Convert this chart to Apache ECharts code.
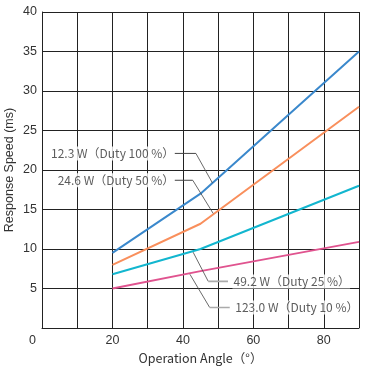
<!DOCTYPE html>
<html>
<head>
<meta charset="utf-8">
<script src="https://cdn.jsdelivr.net/npm/echarts@6/dist/echarts.min.js"></script>
<style>html,body{margin:0;padding:0;background:#fff}#c{width:370px;height:372px}</style>
</head>
<body>
<div id="c"></div>
<script>
// Operation angle (deg) at the measured points
const angles = [20, 45, 90];
// Response speed (ms)
const speed100 = [9.5, 17.0, 35.0];   // 12.3 W (Duty 100 %)
const speed50  = [8.0, 13.2, 28.0];   // 24.6 W (Duty 50 %)
const speed25  = [6.8, 10.0, 18.0];   // 49.2 W (Duty 25 %)
const speed10  = [5.0, 7.2, 10.9];    // 123.0 W (Duty 10 %)
const seriesNames = ['12.3 W（Duty 100 %）', '24.6 W（Duty 50 %）', '49.2 W（Duty 25 %）', '123.0 W（Duty 10 %）'];
const xTickLabels = ['0', '20', '40', '60', '80'];
const yTickLabels = ['5', '10', '15', '20', '25', '30', '35', '40'];
// Leader-line anchor points for annotations (data coordinates)
const leader100 = [[37.7, 22.1], [43.7, 22.1], [48.4, 18.35]];
const leader50  = [[37.7, 18.7], [42.8, 18.7], [48.6, 14.5]];
const leader25  = [[42.9, 9.6], [47.2, 5.9], [52.8, 5.9]];
const leader10  = [[42.0, 6.8], [47.6, 2.6], [53.3, 2.6]];

const colors = ['#3a88cc', '#f98f5c', '#12b6cf', '#e0538f'];
const values = [speed100, speed50, speed25, speed10];
const leaders = [leader100, leader50, leader25, leader10];
const labelSide = ['left', 'left', 'right', 'right'];

const chart = echarts.init(document.getElementById('c'), null, {renderer: 'canvas'});

const series = [];
values.forEach((v, i) => {
  series.push({
    type: 'line', name: seriesNames[i],
    data: angles.map((a, k) => [a, v[k]]),
    symbol: 'none', smooth: false, silent: true,
    lineStyle: {color: colors[i], width: 2},
    z: 5
  });
});
leaders.forEach((pts, i) => {
  const side = labelSide[i];
  series.push({
    type: 'line', data: pts.slice(side === 'left' ? 1 : 0, side === 'left' ? 3 : 2),
    symbol: 'none', silent: true,
    lineStyle: {color: '#444', width: 0.8}, z: 8
  });
  series.push({
    type: 'line', data: side === 'left' ? pts.slice(0, 2) : pts.slice(1, 3),
    symbol: 'none', silent: true,
    lineStyle: {color: side === 'left' ? '#444' : '#aaa', width: side === 'left' ? 1 : 1.6}, z: 8
  });
  const anchor = side === 'left' ? pts[0] : pts[2];
  series.push({
    type: 'scatter', silent: true, symbolSize: 1,
    itemStyle: {color: 'rgba(0,0,0,0)'},
    data: [anchor],
    label: {
      show: true, position: side, distance: side === 'left' ? 0 : 4,
      formatter: seriesNames[i],
      color: '#333', fontSize: 12,
      fontFamily: '"Noto Sans CJK JP", "Noto Sans", sans-serif',
      backgroundColor: '#fff', padding: [1, 0, 1, 1]
    },
    z: 7
  });
});

chart.setOption({
  animation: false,
  backgroundColor: '#fff',
  grid: {left: 42, right: 11, top: 12, bottom: 44, containLabel: false, outerBoundsMode: 'none', show: false},
  xAxis: {
    type: 'value', min: 0, max: 90, interval: 10,
    name: 'Operation Angle（°）', nameLocation: 'middle', nameGap: 22,
    nameTextStyle: {color: '#333', fontSize: 12.5, fontFamily: '"Noto Sans CJK JP", "Liberation Sans", sans-serif'},
    axisLine: {show: true, onZero: false, lineStyle: {color: '#222', width: 1}},
    axisTick: {show: false},
    splitLine: {show: true, lineStyle: {color: '#222', width: 1}},
    axisLabel: {
      show: true, margin: 6, color: '#333', fontSize: 12.5, fontFamily: '"Liberation Sans", Arial, sans-serif',
      showMaxLabel: true,
      formatter: function (v) {
        const s = String(v);
        if (s === '0') return '{z|0}';
        return xTickLabels.indexOf(s) >= 0 ? s : '';
      },
      rich: {z: {padding: [0, 19, 0, 0], fontSize: 12.5, color: '#333', fontFamily: '"Liberation Sans", Arial, sans-serif'}}
    }
  },
  yAxis: {
    type: 'value', min: 0, max: 40, interval: 5,
    name: 'Response Speed (ms)', nameLocation: 'middle', nameGap: 26, nameRotate: 90,
    nameMoveOverlap: false,
    nameTextStyle: {color: '#333', fontSize: 12.5, fontFamily: '"Liberation Sans", Arial, sans-serif'},
    axisLine: {show: true, onZero: false, lineStyle: {color: '#222', width: 1}},
    axisTick: {show: false},
    splitLine: {show: true, lineStyle: {color: '#222', width: 1}},
    axisLabel: {
      show: true, margin: 5, color: '#333', fontSize: 12.5, fontFamily: '"Liberation Sans", Arial, sans-serif',
      showMaxLabel: true,
      formatter: function (v) { const s = String(v); return yTickLabels.indexOf(s) >= 0 ? s : ''; }
    }
  },
  series: series
});
</script>
</body>
</html>
